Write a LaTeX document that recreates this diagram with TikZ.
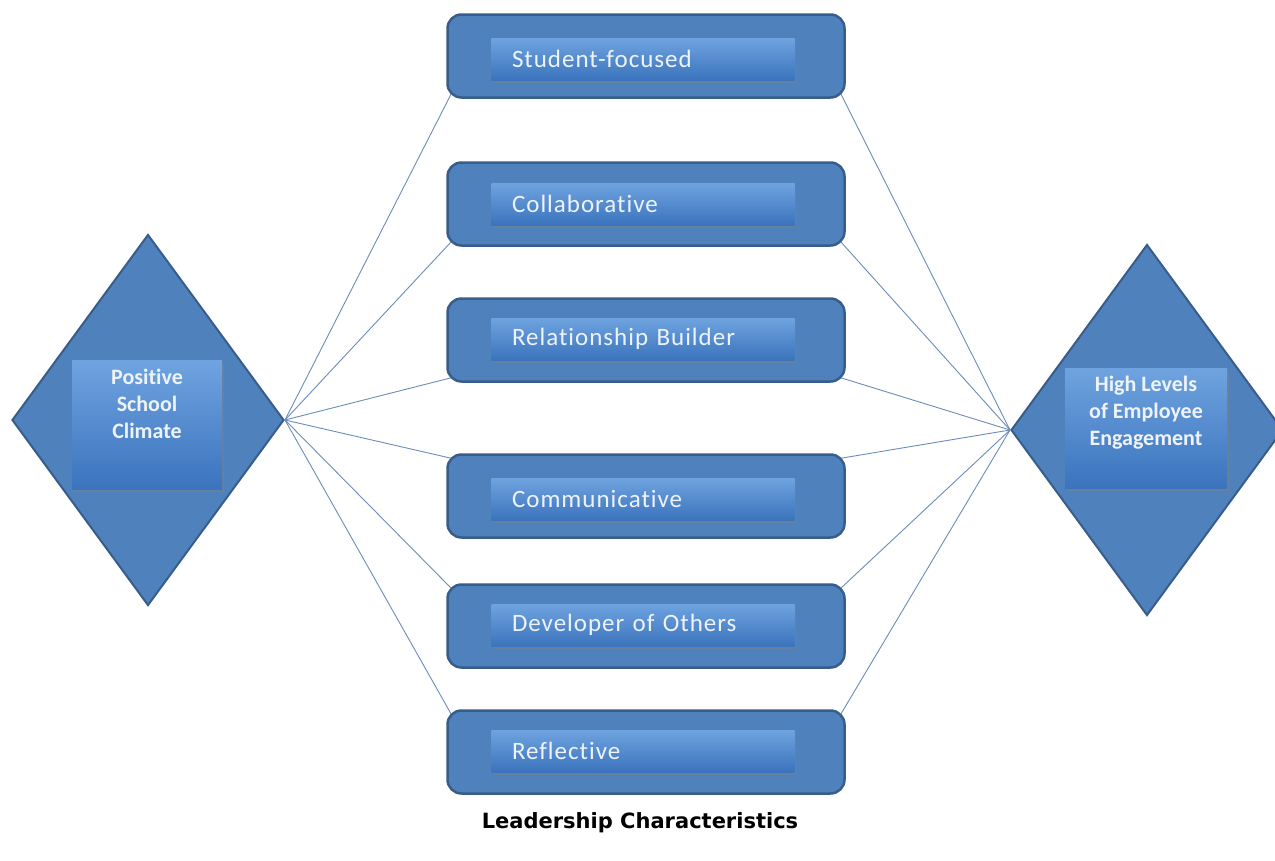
\documentclass[tikz,border=0pt]{standalone}
\usepackage{fontspec}
\setmainfont{Carlito}[Ligatures=NoCommon]
\newfontfamily\capfont{DejaVu Sans}
\usetikzlibrary{shapes.geometric,shadows,calc}
\definecolor{boxblue}{HTML}{4F81BD}
\definecolor{boxedge}{HTML}{385D8A}
\definecolor{innertop}{HTML}{6FA3E0}
\definecolor{innerbot}{HTML}{3B74BD}
\definecolor{paletext}{HTML}{EEF3FA}
\definecolor{linkblue}{HTML}{6C8CBA}
\begin{document}
\begin{tikzpicture}[x=1pt,y=-1pt,
  trait/.style={draw=boxedge,line width=2.5pt,fill=boxblue,rounded corners=14pt,
    minimum width=397pt,minimum height=83pt},
  traittext/.style={top color=innertop,bottom color=innerbot,draw=none,
    drop shadow={opacity=0.45,shadow xshift=1.5pt,shadow yshift=-2.5pt},
    minimum width=303pt,minimum height=42pt,text width=262pt,align=left,
    text=paletext,font=\fontsize{25}{28}\selectfont\addfontfeature{LetterSpace=4}},
  goal/.style={diamond,draw=boxedge,line width=2pt,fill=boxblue,inner sep=0pt,
    minimum width=272pt,minimum height=371pt},
  goaltext/.style={top color=innertop,bottom color=innerbot,draw=none,
    drop shadow={opacity=0.45,shadow xshift=1.5pt,shadow yshift=-2.5pt},
    align=center,text=paletext,font=\bfseries\fontsize{22}{27}\selectfont},
  link/.style={draw=linkblue,line width=0.9pt}
]
\useasboundingbox[fill=white] (0,0) rectangle (1275,860);

% outcome shapes
\node[goal] (pos) at (148,420) {};
\node[goal] (eng) at (1147,430) {};

% leadership boxes
\node[trait] (t1) at (646,56) {};
\node[trait] (t2) at (646,204) {};
\node[trait] (t3) at (646,340) {};
\node[trait] (t4) at (646,496) {};
\node[trait] (t5) at (646,626) {};
\node[trait] (t6) at (646,752) {};

% connectors, ending on the rounded corners
\draw[link] (pos.east) -- ($(t1.south west)+(5,-5)$);
\draw[link] (pos.east) -- ($(t2.south west)+(5,-5)$);
\draw[link] (pos.east) -- ($(t3.south west)+(5,-5)$);
\draw[link] (pos.east) -- ($(t4.north west)+(5,5)$);
\draw[link] (pos.east) -- ($(t5.north west)+(5,5)$);
\draw[link] (pos.east) -- ($(t6.north west)+(5,5)$);
\draw[link] (eng.west) -- ($(t1.south east)+(-5,-5)$);
\draw[link] (eng.west) -- ($(t2.south east)+(-5,-5)$);
\draw[link] (eng.west) -- ($(t3.south east)+(-5,-5)$);
\draw[link] (eng.west) -- ($(t4.north east)+(-5,5)$);
\draw[link] (eng.west) -- ($(t5.north east)+(-5,5)$);
\draw[link] (eng.west) -- ($(t6.north east)+(-5,5)$);

\node[traittext] (s1) at (643,59) {Student-focused};
\node[traittext] (s2) at (643,204) {Collaborative};
\node[traittext] (s3) at (643,339) {Relationship Builder};
\node[traittext] (s4) at (643,499) {Communicative};
\node[traittext] (s5) at (643,625) {Developer of Others};
\node[traittext] (s6) at (643,751) {Reflective};

\node[goaltext,minimum width=150pt,minimum height=129pt,text depth=42pt] (posin) at (147,425) {Positive\\School\\Climate};
\node[goaltext,minimum width=162pt,minimum height=120pt,text depth=35pt] (engin) at (1146,428) {High Levels\\of Employee\\Engagement};

\node[font=\capfont\bfseries\fontsize{21}{24}\selectfont] (cap) at (640,823) {Leadership Characteristics};
\end{tikzpicture}
\end{document}
